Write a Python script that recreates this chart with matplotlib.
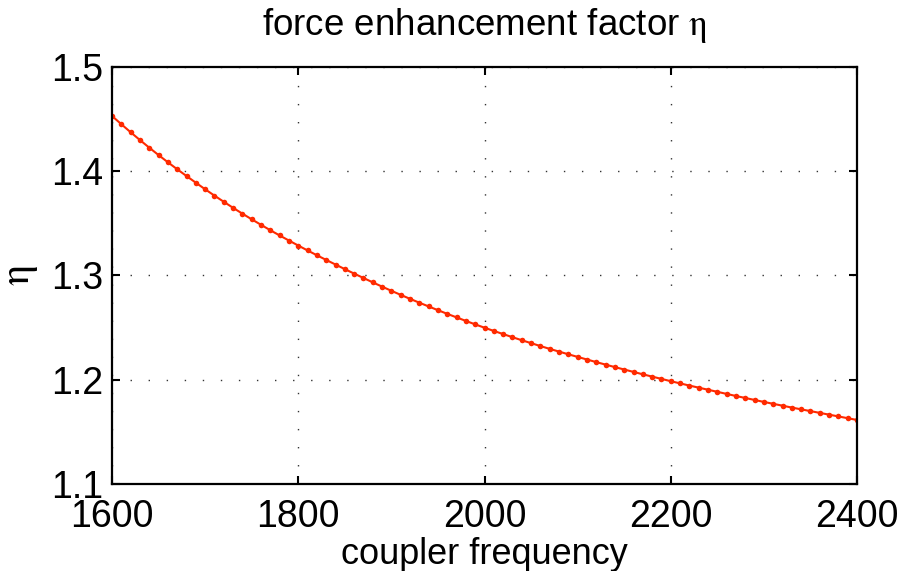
import matplotlib
matplotlib.use("Agg")
import matplotlib.pyplot as plt

plt.rcParams['font.family'] = ['Liberation Sans', 'DejaVu Sans']
plt.rcParams['mathtext.fontset'] = 'stix'

# coupler frequency sweep, step 10
freq = list(range(1600, 2401, 10))

# force enhancement factor at each frequency
eta = [
    1.4530, 1.4451, 1.4374, 1.4299, 1.4226, 1.4155, 1.4086, 1.4019, 1.3954, 1.3890,
    1.3827, 1.3766, 1.3707, 1.3649, 1.3593, 1.3539, 1.3486, 1.3434, 1.3384, 1.3335,
    1.3287, 1.3240, 1.3194, 1.3149, 1.3105, 1.3061, 1.3018, 1.2976, 1.2934, 1.2893,
    1.2853, 1.2814, 1.2776, 1.2739, 1.2703, 1.2667, 1.2632, 1.2598, 1.2564, 1.2531,
    1.2499, 1.2468, 1.2438, 1.2408, 1.2379, 1.2351, 1.2323, 1.2296, 1.2270, 1.2244,
    1.2219, 1.2194, 1.2169, 1.2145, 1.2121, 1.2098, 1.2075, 1.2052, 1.2030, 1.2008,
    1.1986, 1.1965, 1.1944, 1.1924, 1.1904, 1.1884, 1.1864, 1.1844, 1.1825, 1.1806,
    1.1787, 1.1769, 1.1751, 1.1733, 1.1716, 1.1699, 1.1682, 1.1665, 1.1648, 1.1631,
    1.1614,
]

xticks = [1600, 1800, 2000, 2200, 2400]
yticks = [1.1, 1.2, 1.3, 1.4, 1.5]

fig = plt.figure(figsize=(8.99, 5.71), dpi=100)
ax = fig.add_axes([0.1246, 0.1524, 0.8287, 0.7303])

ax.plot(freq, eta, color='#ff2a00', linewidth=1.5, marker='o', markersize=4,
        markeredgewidth=0)

ax.set_xlim(1600, 2400)
ax.set_ylim(1.1, 1.5)
ax.set_xticks(xticks)
ax.set_yticks(yticks)
ax.set_xticklabels([str(v) for v in xticks])
ax.set_yticklabels([f"{v:.1f}" for v in yticks])

ax.grid(True, color='#333333', linestyle=(0, (1, 12)), linewidth=1.0)
ax.tick_params(direction='in', top=True, right=True, length=6, width=1.5,
               labelsize=27)
ax.tick_params(axis='x', pad=11)
ax.tick_params(axis='y', pad=6)
for s in ax.spines.values():
    s.set_linewidth(1.6)

ax.set_xlabel('coupler frequency', fontsize=26, labelpad=1)
ax.set_ylabel(r'$\mathrm{\eta}$', fontsize=30, labelpad=8)
ax.set_title(r'force enhancement factor $\mathrm{\eta}$', fontsize=26.5, pad=23)

fig.savefig('out.png', dpi=100)
